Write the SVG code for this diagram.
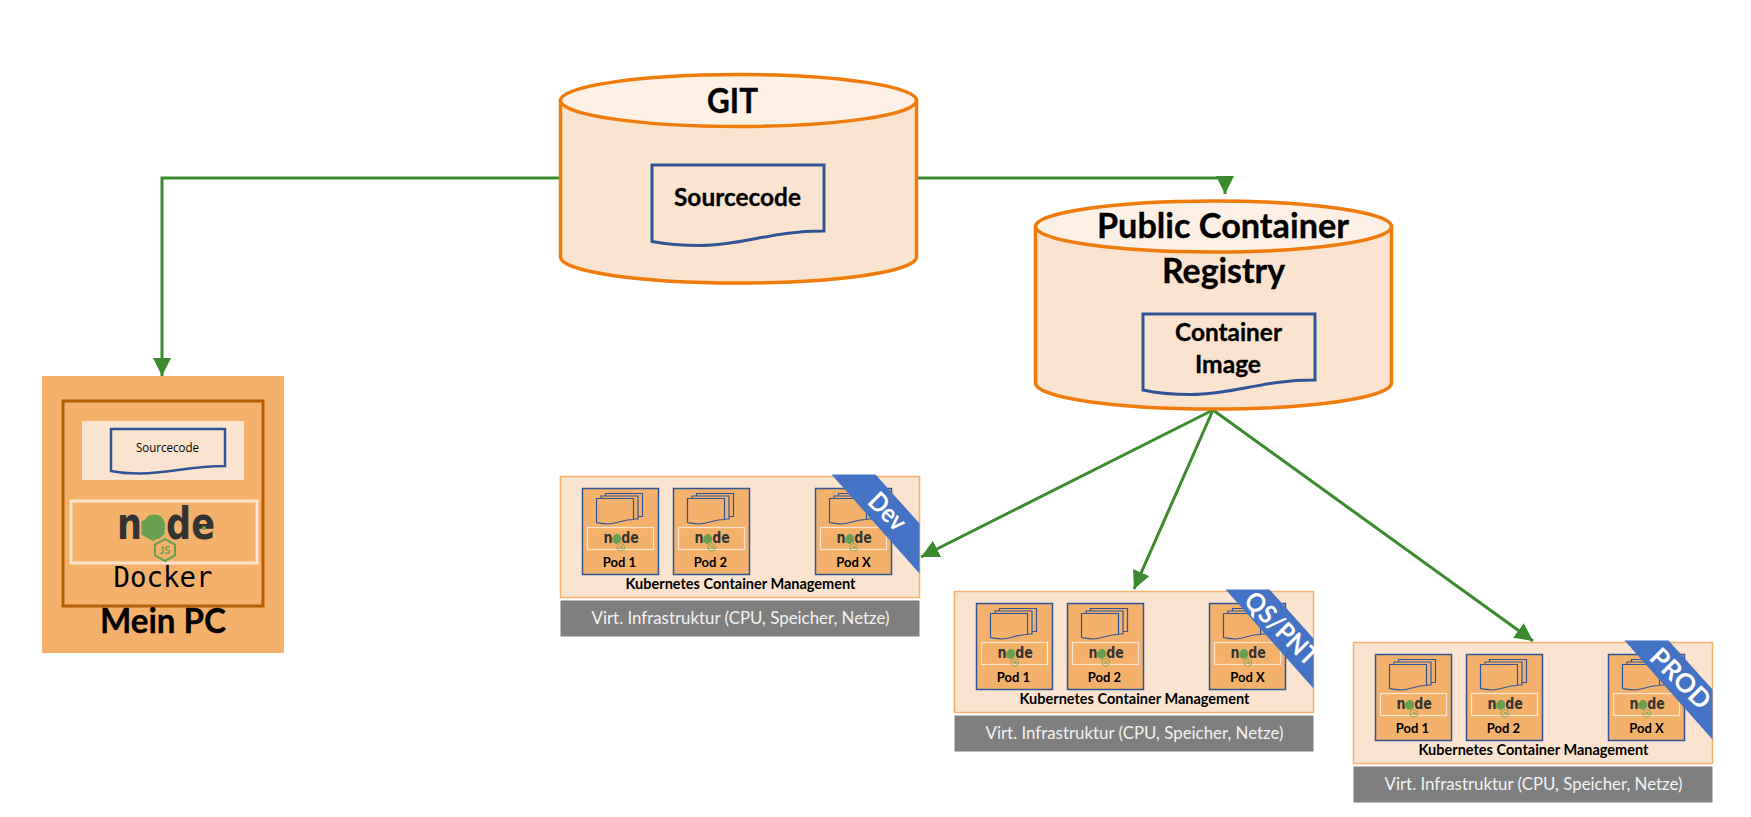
<svg xmlns="http://www.w3.org/2000/svg" width="1751" height="817" viewBox="0 0 1751 817">
<style>
text{font-family:"Lato","Open Sans","Noto Sans",sans-serif;fill:#000;text-anchor:middle}
.b{font-weight:700;stroke:#000;stroke-width:.35}
.cy{fill:#FBE4CF;stroke:#EE7B0A;stroke-width:3.5}
.cyt{fill:#FDF0E4;stroke:#EE7B0A;stroke-width:3.5}
.doc{fill:#FBE4CF;stroke:#2F5597;stroke-width:3}
.panel{fill:#FBE4CF;stroke:#F4B16C;stroke-width:1.5}
.gray{fill:#7F7F7F}
.gt{fill:#F2F2F2;font-size:17px}
.pod{fill:#F4B16C;stroke:#2F5597;stroke-width:1.5}
.pl{font-size:13px;font-weight:700}
.box{fill:none;stroke:#FBE4CF;stroke-width:1.2}
.sheet{fill:#F4B16C;stroke:#2F5597;stroke-width:1.2}
.rib{fill:#4472C4}
.rt{fill:#fff;font-size:26px;font-weight:700}
.km{font-size:15px;font-weight:700}
.conn{fill:none;stroke:#3B8B2E;stroke-width:3}
.ah{fill:#3B8B2E}
</style>
<defs>
<marker id="arrow" markerUnits="userSpaceOnUse" markerWidth="20" markerHeight="20" refX="18" refY="9" orient="auto">
<path class="ah" d="M0 0L18 9L0 18Z"/>
</marker>
<g id="logo">
<polygon points="36,12 47.500,18.500 47.500,31.500 36,38 24.500,31.500 24.500,18.500" fill="#68A04F"/>
<text x="49" y="36" style="font-family:'DejaVu Sans',sans-serif;font-weight:700;font-size:44px;fill:#333" textLength="98" lengthAdjust="spacingAndGlyphs">n<tspan style="fill:#68A04F">o</tspan>de</text>
<circle cx="87" cy="25" r="2" fill="#68A04F"/>
<polygon points="48,36 58,41.500 58,52.500 48,58 38,52.500 38,41.500" fill="none" stroke="#68A04F" stroke-width="2"/>
<text x="48" y="51" style="font-size:11px;fill:#68A04F;font-weight:700">JS</text>
</g>
<g id="podbody">
<rect class="pod" width="76" height="86"/>
<path class="sheet" d="M23 5H60V28H23Z"/>
<path class="sheet" d="M18.500 7.500H55.500V30.500H18.500Z"/>
<path class="sheet" d="M14 10H51V31C40 31 36 35 26 35.500C21 35.500 17 34.500 14 34Z"/>
<rect class="box" x="5" y="39" width="66" height="22"/>
<use href="#logo" transform="translate(21 42) scale(.36)"/>
</g>
<g id="infra">
<rect class="panel" width="359" height="121"/>
<rect class="gray" y="124" width="359" height="36"/>
<text class="gt" x="180" y="147" textLength="298" lengthAdjust="spacingAndGlyphs">Virt. Infrastruktur (CPU, Speicher, Netze)</text>
<text class="km" x="180" y="112" textLength="230" lengthAdjust="spacingAndGlyphs">Kubernetes Container Management</text>
</g>
</defs>

<g id="connectors">
<path class="conn" d="M560 178H162V376" marker-end="url(#arrow)"/>
<path class="conn" d="M917 178H1225V194" marker-end="url(#arrow)"/>
<path class="conn" d="M1213 410L921 557" marker-end="url(#arrow)"/>
<path class="conn" d="M1213 410L1134 589" marker-end="url(#arrow)"/>
<path class="conn" d="M1213 410L1533 641" marker-end="url(#arrow)"/>
</g>

<g id="git">
<path class="cy" d="M560.500 100.500V257C560.500 271.500 640 283 738.500 283S916.500 271.500 916.500 257V100.500Z"/>
<ellipse class="cyt" cx="738.500" cy="100.500" rx="178" ry="26"/>
<text class="b" x="732.500" y="112.500" style="font-size:35px" textLength="51" lengthAdjust="spacingAndGlyphs">GIT</text>
<path class="doc" d="M652 165H824V231C770 231 745 245 700 245.500C680 245.500 665 244 652 241.500Z"/>
<text class="b" x="737.500" y="206" style="font-size:25px" textLength="127" lengthAdjust="spacingAndGlyphs">Sourcecode</text>
</g>

<g id="registry">
<path class="cy" d="M1035.500 226.500V383C1035.500 397.500 1115 409 1213.500 409S1391.500 397.500 1391.500 383V226.500Z"/>
<ellipse class="cyt" cx="1213.500" cy="226.500" rx="178" ry="25.500"/>
<text class="b" x="1223" y="238" style="font-size:35px" textLength="252" lengthAdjust="spacingAndGlyphs">Public Container</text>
<text class="b" x="1223.500" y="283" style="font-size:35px" textLength="123" lengthAdjust="spacingAndGlyphs">Registry</text>
<path class="doc" d="M1143 314H1315V380C1261 380 1236 394 1191 394.500C1171 394.500 1156 393 1143 390Z"/>
<text class="b" x="1228.500" y="340.500" style="font-size:25px" textLength="107" lengthAdjust="spacingAndGlyphs">Container</text>
<text class="b" x="1228" y="372.500" style="font-size:25px" textLength="66" lengthAdjust="spacingAndGlyphs">Image</text>
</g>

<g id="mein-pc">
<rect x="42" y="376" width="242" height="277" fill="#F4B16C"/>
<rect x="63" y="401" width="200" height="205" fill="none" stroke="#B45F06" stroke-width="3"/>
<rect x="82" y="421" width="162" height="59" fill="#FBE4CF"/>
<path class="doc" d="M111 429H225V466C190 466 170 473 140 473.500C128 473.500 118 472.500 111 471Z" style="stroke-width:2.500"/>
<text x="167.500" y="451.500" style="font-size:12.500px;font-family:'Open Sans',sans-serif" textLength="63" lengthAdjust="spacingAndGlyphs">Sourcecode</text>
<rect x="71" y="501" width="186" height="62" fill="none" stroke="#FBE4CF" stroke-width="3"/>
<use href="#logo" transform="translate(117 503)"/>
<text x="163" y="587" style="font-family:'DejaVu Sans Mono',monospace;font-size:29px" textLength="99" lengthAdjust="spacingAndGlyphs">Docker</text>
<text class="b" x="163" y="633" style="font-size:35px" textLength="126" lengthAdjust="spacingAndGlyphs">Mein PC</text>
</g>

<g id="dev" transform="translate(560.500 476.500)">
<use href="#infra"/>
<g id="dev-pod1" transform="translate(22 12)"><use href="#podbody"/><text class="pl" x="37" y="78">Pod 1</text></g>
<g id="dev-pod2" transform="translate(113 12)"><use href="#podbody"/><text class="pl" x="37" y="78">Pod 2</text></g>
<g id="dev-podx" transform="translate(255 12)"><use href="#podbody"/><text class="pl" x="38" y="78">Pod X</text></g>
<polygon class="rib" points="271,-2 315,-2 359,47 359,97"/>
<text class="rt" transform="translate(327 35) rotate(45)" y="9" textLength="42" lengthAdjust="spacingAndGlyphs">Dev</text>
</g>

<g id="qs" transform="translate(954.500 591.500)">
<use href="#infra"/>
<g id="qs-pod1" transform="translate(22 12)"><use href="#podbody"/><text class="pl" x="37" y="78">Pod 1</text></g>
<g id="qs-pod2" transform="translate(113 12)"><use href="#podbody"/><text class="pl" x="37" y="78">Pod 2</text></g>
<g id="qs-podx" transform="translate(255 12)"><use href="#podbody"/><text class="pl" x="38" y="78">Pod X</text></g>
<polygon class="rib" points="271,-2 315,-2 359,47 359,97"/>
<text class="rt" transform="translate(327 37) rotate(45)" y="9" textLength="92" lengthAdjust="spacingAndGlyphs">QS/PNT</text>
</g>

<g id="prod" transform="translate(1353.500 642.500)">
<use href="#infra"/>
<g id="prod-pod1" transform="translate(22 12)"><use href="#podbody"/><text class="pl" x="37" y="78">Pod 1</text></g>
<g id="prod-pod2" transform="translate(113 12)"><use href="#podbody"/><text class="pl" x="37" y="78">Pod 2</text></g>
<g id="prod-podx" transform="translate(255 12)"><use href="#podbody"/><text class="pl" x="38" y="78">Pod X</text></g>
<polygon class="rib" points="271,-2 315,-2 359,47 359,97"/>
<text class="rt" transform="translate(327 36) rotate(45)" y="9" textLength="74" lengthAdjust="spacingAndGlyphs">PROD</text>
</g>
</svg>
